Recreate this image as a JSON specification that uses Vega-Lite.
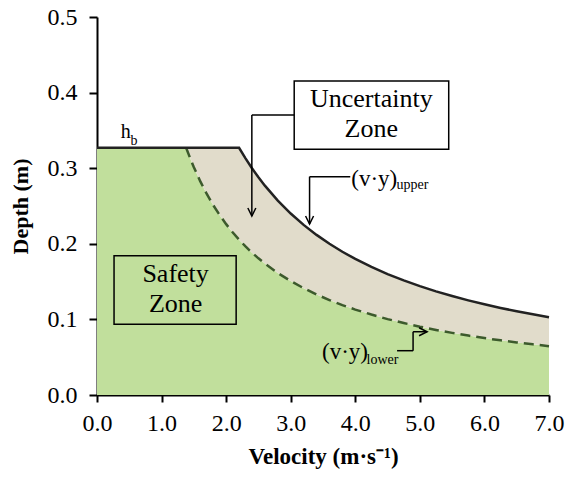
{
  "$schema": "https://vega.github.io/schema/vega-lite/v6.json",
  "width": 452,
  "height": 378,
  "autosize": {"type": "none"},
  "padding": {"left": 97, "top": 17, "right": 17, "bottom": 82},
  "background": "white",
  "config": {
    "view": {"stroke": null},
    "font": "Liberation Serif",
    "axis": {
      "grid": false,
      "labelFlush": false,
      "labelOverlap": false,
      "domainColor": "black",
      "domainWidth": 2,
      "tickColor": "black",
      "tickWidth": 2,
      "labelFont": "Liberation Serif",
      "labelFontSize": 24,
      "labelColor": "black",
      "titleFont": "Liberation Serif",
      "titleFontSize": 22,
      "titleFontWeight": "bold",
      "titleColor": "black"
    },
    "axisX": {"tickCount": 7, "format": ".1f", "tickSize": 7, "labelPadding": 9, "titlePadding": 10, "titleFontSize": 23},
    "axisY": {"tickCount": 5, "format": ".1f", "tickSize": 8, "labelPadding": 12, "titlePadding": 15}
  },
  "datasets": {
    "curves": [
      {"v": 0, "upper": 0.327, "lower": 0.327},
      {"v": 1.38, "upper": 0.327, "lower": 0.327},
      {"v": 1.45, "upper": 0.327, "lower": 0.3117},
      {"v": 1.5, "upper": 0.327, "lower": 0.3013},
      {"v": 1.6, "upper": 0.327, "lower": 0.2825},
      {"v": 1.7, "upper": 0.327, "lower": 0.2659},
      {"v": 1.8, "upper": 0.327, "lower": 0.2511},
      {"v": 1.9, "upper": 0.327, "lower": 0.2379},
      {"v": 2.0, "upper": 0.327, "lower": 0.226},
      {"v": 2.1, "upper": 0.327, "lower": 0.2152},
      {"v": 2.2, "upper": 0.327, "lower": 0.2055},
      {"v": 2.3, "upper": 0.313, "lower": 0.1965},
      {"v": 2.4, "upper": 0.3, "lower": 0.1883},
      {"v": 2.5, "upper": 0.288, "lower": 0.1808},
      {"v": 2.6, "upper": 0.2769, "lower": 0.1738},
      {"v": 2.8, "upper": 0.2571, "lower": 0.1614},
      {"v": 3.0, "upper": 0.24, "lower": 0.1507},
      {"v": 3.2, "upper": 0.225, "lower": 0.1413},
      {"v": 3.4, "upper": 0.2118, "lower": 0.1329},
      {"v": 3.6, "upper": 0.2, "lower": 0.1256},
      {"v": 3.8, "upper": 0.1895, "lower": 0.1189},
      {"v": 4.0, "upper": 0.18, "lower": 0.113},
      {"v": 4.25, "upper": 0.1694, "lower": 0.1064},
      {"v": 4.5, "upper": 0.16, "lower": 0.1004},
      {"v": 4.75, "upper": 0.1516, "lower": 0.0952},
      {"v": 5.0, "upper": 0.144, "lower": 0.0904},
      {"v": 5.25, "upper": 0.1371, "lower": 0.0861},
      {"v": 5.5, "upper": 0.1309, "lower": 0.0822},
      {"v": 5.75, "upper": 0.1252, "lower": 0.0786},
      {"v": 6.0, "upper": 0.12, "lower": 0.0753},
      {"v": 6.25, "upper": 0.1152, "lower": 0.0723},
      {"v": 6.5, "upper": 0.1108, "lower": 0.0695},
      {"v": 6.75, "upper": 0.1067, "lower": 0.067},
      {"v": 7.0, "upper": 0.1029, "lower": 0.0646}
    ],
    "boxes": [
      {"name": "Uncertainty Zone", "x": 3.054, "x2": 5.447, "y": 0.325, "y2": 0.4153},
      {"name": "Safety Zone", "x": 0.264, "x2": 2.155, "y": 0.0935, "y2": 0.1843}
    ],
    "zoneText": [
      {"label": "Uncertainty", "x": 4.248, "y": 0.3813},
      {"label": "Zone", "x": 4.248, "y": 0.3417},
      {"label": "Safety", "x": 1.217, "y": 0.1499},
      {"label": "Zone", "x": 1.217, "y": 0.1102}
    ],
    "vyText": [
      {"label": "(v·y)", "x": 3.938, "y": 0.2765},
      {"label": "(v·y)", "x": 3.484, "y": 0.0476}
    ],
    "hText": [
      {"label": "h", "x": 0.367, "y": 0.3396}
    ],
    "subText": [
      {"label": "upper", "x": 4.64, "y": 0.273},
      {"label": "lower", "x": 4.175, "y": 0.041},
      {"label": "b", "x": 0.519, "y": 0.3307}
    ],
    "segments": [
      {"x": 3.054, "y": 0.3704, "x2": 2.398, "y2": 0.3704},
      {"x": 2.398, "y": 0.3704, "x2": 2.398, "y2": 0.2368},
      {"x": 3.922, "y": 0.2888, "x2": 3.292, "y2": 0.2888},
      {"x": 3.292, "y": 0.2888, "x2": 3.292, "y2": 0.2262},
      {"x": 4.647, "y": 0.0586, "x2": 4.895, "y2": 0.0586},
      {"x": 4.895, "y": 0.0586, "x2": 4.895, "y2": 0.0837},
      {"x": 4.895, "y": 0.0837, "x2": 5.112, "y2": 0.0837}
    ],
    "headsDown": [
      {"x": 2.398, "y": 0.2368},
      {"x": 3.292, "y": 0.2262}
    ],
    "headsRight": [
      {"x": 5.112, "y": 0.0837}
    ]
  },
  "layer": [
    {
      "data": {"name": "curves"},
      "mark": {"type": "area", "color": "#c1df9c"},
      "encoding": {
        "x": {"field": "v", "type": "quantitative", "title": "Velocity (m·s⁻¹)", "scale": {"domain": [0, 7], "nice": false, "zero": false}},
        "y": {"field": "lower", "type": "quantitative", "title": "Depth (m)", "scale": {"domain": [0, 0.5], "nice": false}}
      }
    },
    {
      "data": {"name": "curves"},
      "mark": {"type": "area", "color": "#e1dccb"},
      "encoding": {
        "x": {"field": "v", "type": "quantitative", "title": "Velocity (m·s⁻¹)"},
        "y": {"field": "upper", "type": "quantitative", "title": "Depth (m)"},
        "y2": {"field": "lower"}
      }
    },
    {
      "data": {"name": "curves"},
      "transform": [{"filter": "datum.v >= 1.38"}],
      "mark": {"type": "line", "color": "#3c5a2c", "strokeWidth": 2.5, "strokeDash": [10, 6]},
      "encoding": {
        "x": {"field": "v", "type": "quantitative", "title": "Velocity (m·s⁻¹)"},
        "y": {"field": "lower", "type": "quantitative", "title": "Depth (m)"}
      }
    },
    {
      "data": {"name": "curves"},
      "mark": {"type": "line", "color": "#222222", "strokeWidth": 2.5},
      "encoding": {
        "x": {"field": "v", "type": "quantitative", "title": "Velocity (m·s⁻¹)"},
        "y": {"field": "upper", "type": "quantitative", "title": "Depth (m)"}
      }
    },
    {
      "data": {"name": "boxes"},
      "mark": {"type": "rect", "fill": null, "fillOpacity": 0, "stroke": "black", "strokeWidth": 1.5},
      "encoding": {
        "x": {"field": "x", "type": "quantitative", "title": "Velocity (m·s⁻¹)"},
        "x2": {"field": "x2"},
        "y": {"field": "y", "type": "quantitative", "title": "Depth (m)"},
        "y2": {"field": "y2"}
      }
    },
    {
      "data": {"name": "segments"},
      "mark": {"type": "rule", "color": "black", "strokeWidth": 1.5},
      "encoding": {
        "x": {"field": "x", "type": "quantitative", "title": "Velocity (m·s⁻¹)"},
        "x2": {"field": "x2"},
        "y": {"field": "y", "type": "quantitative", "title": "Depth (m)"},
        "y2": {"field": "y2"}
      }
    },
    {
      "data": {"name": "headsDown"},
      "mark": {"type": "point", "shape": "M-0.5,-1L0,0L0.5,-1", "filled": false, "stroke": "black", "strokeWidth": 1.5, "size": 256, "opacity": 1},
      "encoding": {
        "x": {"field": "x", "type": "quantitative", "title": "Velocity (m·s⁻¹)"},
        "y": {"field": "y", "type": "quantitative", "title": "Depth (m)"}
      }
    },
    {
      "data": {"name": "headsRight"},
      "mark": {"type": "point", "shape": "M-1,-0.5L0,0L-1,0.5", "filled": false, "stroke": "black", "strokeWidth": 1.5, "size": 256, "opacity": 1},
      "encoding": {
        "x": {"field": "x", "type": "quantitative", "title": "Velocity (m·s⁻¹)"},
        "y": {"field": "y", "type": "quantitative", "title": "Depth (m)"}
      }
    },
    {
      "data": {"name": "zoneText"},
      "mark": {"type": "text", "font": "Liberation Serif", "fontSize": 26, "align": "center", "baseline": "alphabetic", "color": "black"},
      "encoding": {
        "x": {"field": "x", "type": "quantitative", "title": "Velocity (m·s⁻¹)"},
        "y": {"field": "y", "type": "quantitative", "title": "Depth (m)"},
        "text": {"field": "label"}
      }
    },
    {
      "data": {"name": "vyText"},
      "mark": {"type": "text", "font": "Liberation Serif", "fontSize": 23, "align": "left", "baseline": "alphabetic", "color": "black"},
      "encoding": {
        "x": {"field": "x", "type": "quantitative", "title": "Velocity (m·s⁻¹)"},
        "y": {"field": "y", "type": "quantitative", "title": "Depth (m)"},
        "text": {"field": "label"}
      }
    },
    {
      "data": {"name": "hText"},
      "mark": {"type": "text", "font": "Liberation Serif", "fontSize": 20, "align": "left", "baseline": "alphabetic", "color": "black"},
      "encoding": {
        "x": {"field": "x", "type": "quantitative", "title": "Velocity (m·s⁻¹)"},
        "y": {"field": "y", "type": "quantitative", "title": "Depth (m)"},
        "text": {"field": "label"}
      }
    },
    {
      "data": {"name": "subText"},
      "mark": {"type": "text", "font": "Liberation Serif", "fontSize": 14, "align": "left", "baseline": "alphabetic", "color": "black"},
      "encoding": {
        "x": {"field": "x", "type": "quantitative", "title": "Velocity (m·s⁻¹)"},
        "y": {"field": "y", "type": "quantitative", "title": "Depth (m)"},
        "text": {"field": "label"}
      }
    }
  ]
}
